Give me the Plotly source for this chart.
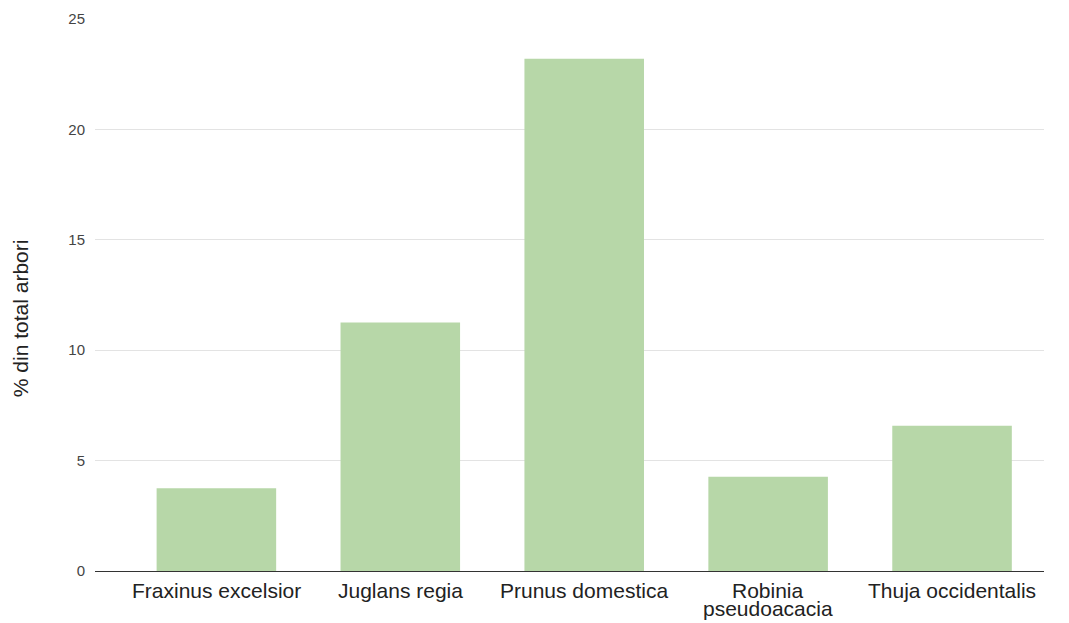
import plotly.graph_objects as go

species = ["Fraxinus excelsior", "Juglans regia", "Prunus domestica",
           "Robinia<br>pseudoacacia", "Thuja occidentalis"]
percent = [3.75, 11.25, 23.2, 4.27, 6.58]
y_ticks = [0, 5, 10, 15, 20, 25]
y_title = "% din total arbori"

LABEL_FONT = dict(family="Liberation Sans, Arial, sans-serif", size=21, color="#222222")
LINE_HEIGHT = 18

fig = go.Figure(
    go.Bar(
        x=list(range(len(species))),
        y=percent,
        marker=dict(color="#b7d7a8", line=dict(width=0)),
        width=0.65,
    )
)

# category labels under the axis, written line by line for tight wrapping
annotations = []
for i, name in enumerate(species):
    for j, line in enumerate(name.split("<br>")):
        annotations.append(dict(
            x=i, y=0, xref="x", yref="paper",
            text=line, showarrow=False,
            xanchor="center", yanchor="top",
            yshift=-6 - j * LINE_HEIGHT,
            font=LABEL_FONT,
        ))

# rotated y-axis title
annotations.append(dict(
    x=0, y=0.458, xref="paper", yref="paper",
    text=y_title, showarrow=False, textangle=-90,
    xanchor="center", yanchor="middle", xshift=-75,
    font=LABEL_FONT,
))

fig.update_layout(
    width=1069,
    height=623,
    margin=dict(l=95, r=25, t=19, b=52, autoexpand=False),
    paper_bgcolor="white",
    plot_bgcolor="white",
    font=dict(family="Liberation Sans, Arial, sans-serif"),
    showlegend=False,
    annotations=annotations,
    xaxis=dict(
        range=[-0.66, 4.5],
        showticklabels=False,
        showgrid=False,
        zeroline=False,
        showline=False,
        ticks="",
        automargin=False,
    ),
    yaxis=dict(
        range=[0, 25],
        tickmode="array",
        tickvals=y_ticks,
        tickfont=dict(size=15, color="#444444"),
        showgrid=True,
        gridcolor="#e3e3e3",
        gridwidth=1,
        zeroline=True,
        zerolinecolor="#333333",
        zerolinewidth=1,
        showline=False,
        ticks="",
        ticklabelstandoff=9,
        automargin=False,
    ),
)

fig.write_html("out.html")
